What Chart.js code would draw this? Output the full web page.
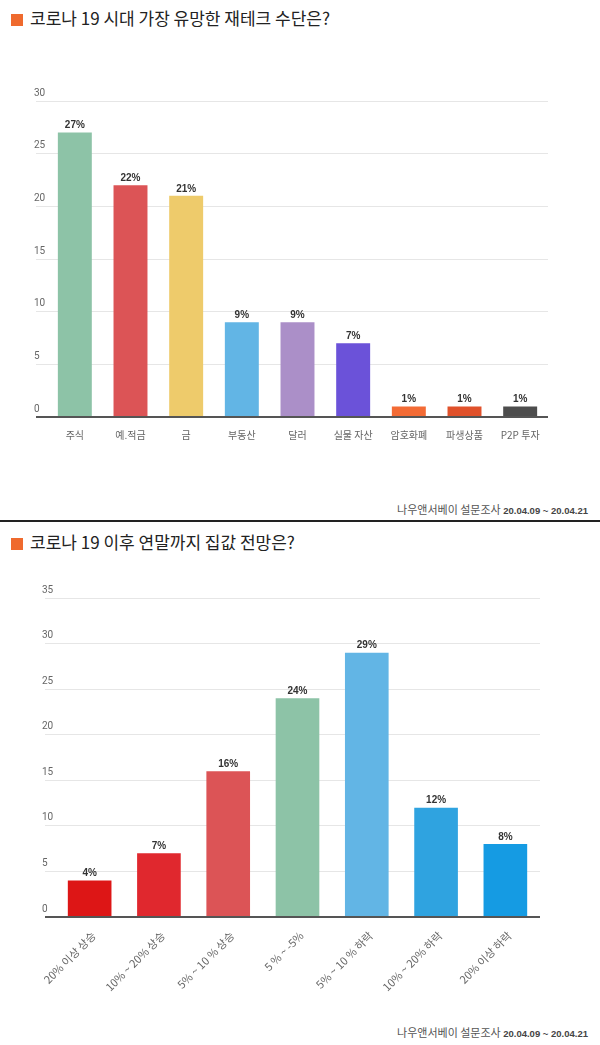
<!DOCTYPE html>
<html>
<head>
<meta charset="utf-8">
<title>코로나 19 재테크 / 집값 전망</title>
<script src="https://cdn.jsdelivr.net/npm/chart.js"></script>
<style>
  body { margin: 0; background: #fff; font-family: "Noto Sans CJK KR", "Noto Sans", sans-serif; }
  #page { position: relative; width: 600px; height: 1045px; overflow: hidden; }
  .title { position: absolute; left: 11px; font-size: 17px; color: #222; white-space: nowrap; line-height: 24px; }
  .title .sq { display: inline-block; width: 12px; height: 12px; background: #ef6a2e; margin-right: 7px; vertical-align: -1px; }
  .source { position: absolute; right: 12px; font-size: 11px; color: #555; white-space: nowrap; }
  .source b { font-family: "Liberation Sans", sans-serif; font-weight: bold; font-size: 9.5px; color: #444; }
  .sep { position: absolute; left: 0; width: 600px; top: 520px; height: 2px; background: #222; }
  .box { position: absolute; left: 0; width: 600px; }
</style>
</head>
<body>
<div id="page">
  <div class="title" style="top:6px"><span class="sq"></span>코로나 19 시대 가장 유망한 재테크 수단은?</div>
  <div class="box" style="top:40px;height:420px"><canvas id="techChart"></canvas></div>
  <div class="source" style="top:501px">나우앤서베이 설문조사 <b>20.04.09 ~ 20.04.21</b></div>
  <div class="sep"></div>
  <div class="title" style="top:530px"><span class="sq"></span>코로나 19 이후 연말까지 집값 전망은?</div>
  <div class="box" style="top:560px;height:440px"><canvas id="houseChart"></canvas></div>
  <div class="source" style="top:1024px">나우앤서베이 설문조사 <b>20.04.09 ~ 20.04.21</b></div>
</div>

<script>
// 1) 유망한 재테크 수단 (%)
const techLabels = ['주식', '예.적금', '금', '부동산', '달러', '실물 자산', '암호화폐', '파생상품', 'P2P 투자'];
const techValues = [27, 22, 21, 9, 9, 7, 1, 1, 1];
const techColors = ['#8dc3a7', '#dc5456', '#eecb6b', '#62b5e5', '#ab8fc8', '#6b52d9', '#f36b35', '#e0512b', '#4d4d4d'];

// 2) 연말까지 집값 전망 (%)
const houseLabels = ['20% 이상 상승', '10% ~ 20% 상승', '5% ~ 10 % 상승', '5 % ~ -5%', '5% ~ 10 % 하락', '10% ~ 20% 하락', '20% 이상 하락'];
const houseValues = [4, 7, 16, 24, 29, 12, 8];
const houseColors = ['#dd1616', '#e0282e', '#dc5456', '#8dc3a7', '#62b5e5', '#2fa3e0', '#159be3'];

const valueLabels = {
  id: 'valueLabels',
  afterDatasetsDraw(chart) {
    const ctx = chart.ctx;
    ctx.save();
    ctx.font = 'bold 10px "Liberation Sans", sans-serif';
    ctx.fillStyle = '#333';
    ctx.textAlign = 'center';
    ctx.textBaseline = 'bottom';
    chart.getDatasetMeta(0).data.forEach((bar, i) => {
      ctx.fillText(chart.data.datasets[0].data[i] + '%', bar.x, bar.y - 2);
    });
    ctx.restore();
  }
};

function makeChart(id, labels, values, colors, opt) {
  return new Chart(document.getElementById(id), {
    type: 'bar',
    data: {
      labels: labels,
      datasets: [{
        data: values,
        backgroundColor: colors,
        categoryPercentage: 1,
        barPercentage: opt.barPct
      }]
    },
    plugins: [valueLabels],
    options: {
      responsive: true,
      maintainAspectRatio: false,
      animation: false,
      layout: { padding: opt.padding },
      plugins: { legend: { display: false }, tooltip: { enabled: false } },
      scales: {
        x: {
          grid: { display: false },
          border: { display: false },
          ticks: {
            autoSkip: false,
            color: '#666',
            padding: 4,
            labelOffset: opt.xShift,
            maxRotation: opt.rot,
            minRotation: opt.rot,
            font: { family: '"Noto Sans CJK KR", sans-serif', size: opt.xFont }
          },
          afterFit: s => { s.height = opt.xHeight; }
        },
        y: {
          min: 0,
          max: opt.max,
          border: { display: false },
          grid: {
            color: c => c.tick && c.tick.value === 0 ? '#555' : '#e6e6e6',
            lineWidth: c => c.tick && c.tick.value === 0 ? 2 : 1,
            tickLength: opt.tickLen
          },
          ticks: {
            stepSize: 5,
            crossAlign: 'far',
            labelOffset: -8,
            padding: 0,
            color: '#666',
            font: { family: 'Roboto, sans-serif', size: 10 }
          },
          afterFit: s => { s.width = opt.yWidth; }
        }
      }
    }
  });
}

makeChart('techChart', techLabels, techValues, techColors, {
  max: 30, barPct: 0.61, rot: 0, xHeight: 30, yWidth: 13, tickLen: 11, xFont: 10, xShift: 0,
  padding: { left: 34, right: 52, top: 61, bottom: 13 }
});

makeChart('houseChart', houseLabels, houseValues, houseColors, {
  max: 35, barPct: 0.63, rot: 45, xHeight: 82, yWidth: 13, tickLen: 10, xFont: 11, xShift: 4,
  padding: { left: 42, right: 60, top: 38, bottom: 1 }
});
</script>
</body>
</html>
